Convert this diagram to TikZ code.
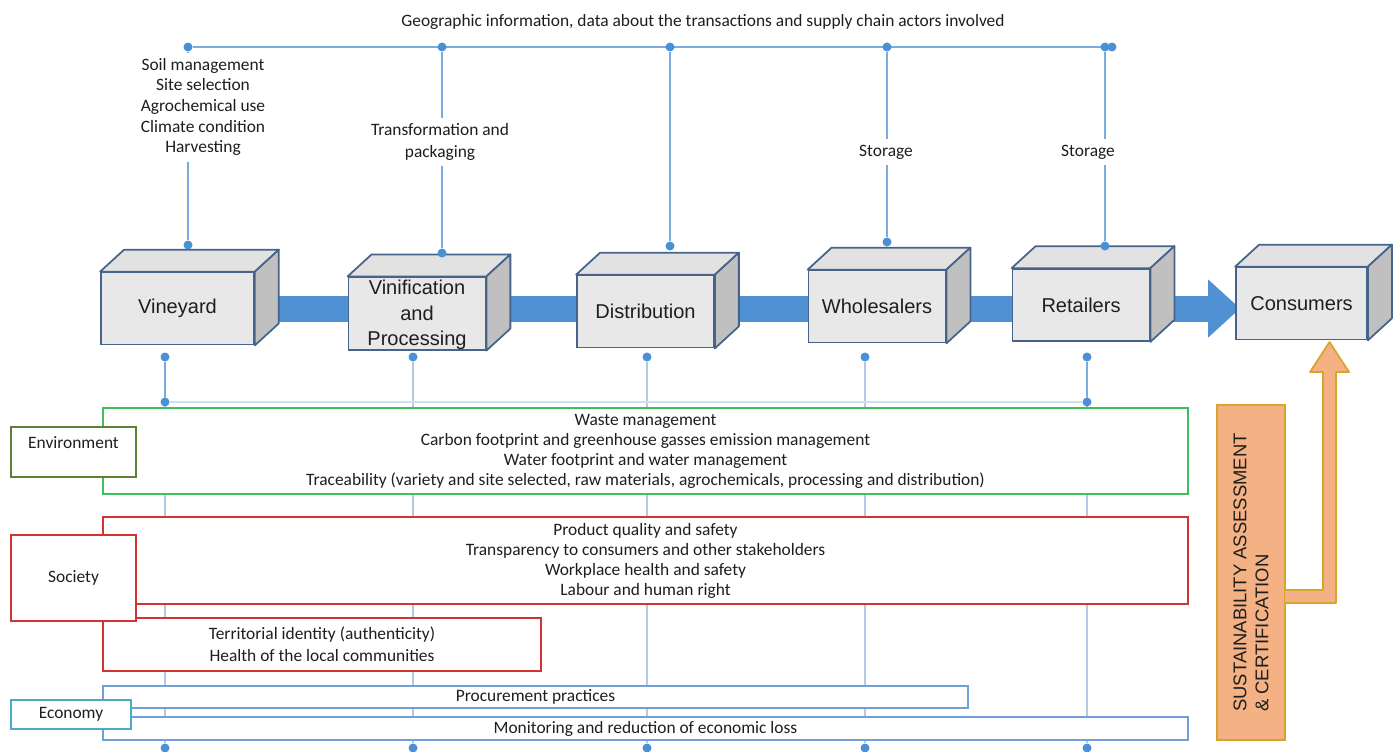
\documentclass[tikz,border=0pt]{standalone}
\usepackage{fontspec}
\setmainfont{Carlito}
\newfontfamily\arialfont{Liberation Sans}
\usetikzlibrary{arrows.meta,backgrounds}

\definecolor{dotblue}{RGB}{74,144,212}
\definecolor{topblue}{RGB}{122,170,222}
\definecolor{lowblue}{RGB}{178,202,230}
\definecolor{paleblue}{RGB}{208,224,242}
\definecolor{flowblue}{RGB}{80,145,212}
\definecolor{boxline}{RGB}{70,100,138}
\definecolor{frontgray}{RGB}{232,232,232}
\definecolor{topgray}{RGB}{226,226,226}
\definecolor{sidegray}{RGB}{192,192,192}
\definecolor{envgreen}{RGB}{62,190,92}
\definecolor{envlabel}{RGB}{96,128,52}
\definecolor{socred}{RGB}{210,52,52}
\definecolor{econblue}{RGB}{112,160,214}
\definecolor{econlabel}{RGB}{76,172,198}
\definecolor{sustfill}{RGB}{244,177,131}
\definecolor{sustline}{RGB}{214,166,44}
\definecolor{textgray}{RGB}{30,30,30}

\tikzset{
  txt/.style={font=\fontsize{9.9}{11.4}\selectfont, text=textgray, align=center},
  bluedot/.style={circle, fill=dotblue, inner sep=0pt, minimum size=0.18cm},
  topline/.style={draw=topblue, line width=0.8pt},
  lowline/.style={draw=lowblue, line width=0.7pt},
  cube/.style={draw=boxline, fill=frontgray, line width=1pt, inner sep=0pt,
    minimum width=2.74cm, minimum height=1.44cm, align=center, text=textgray,
    font=\arialfont\fontsize{11.4}{14.4}\selectfont},
  cubeface/.style={draw=boxline, line width=1pt, line join=round},
  catbox/.style={txt, draw, fill=white, line width=1pt, inner sep=0pt},
  flow/.style={draw=flowblue, line width=0.52cm, -{Triangle[width=1.12cm, length=0.64cm]}},
  sustbox/.style={draw=sustline, fill=sustfill, line width=1pt, inner sep=0pt,
    rotate=90, minimum width=6.7cm, minimum height=1.36cm, align=left,
    text=textgray, font=\arialfont\fontsize{10.5}{12.5}\selectfont}
}

\begin{document}
\begin{tikzpicture}[x=0.02cm, y=-0.02cm]
\useasboundingbox (0,0) rectangle (1398,751);

\node[txt] (title) at (703,22) {Geographic information, data about the transactions and supply chain actors involved};

% the three pillars
\node[catbox, draw=envgreen, minimum width=21.7cm, minimum height=1.72cm] (envbox) at (645.5,451)
	{Waste management\\Carbon footprint and greenhouse gasses emission management\\Water footprint and water management\\Traceability (variety and site selected, raw materials, agrochemicals, processing and distribution)};
\node[catbox, draw=socred, minimum width=21.7cm, minimum height=1.74cm] (socbox) at (645.5,560.5)
	{Product quality and safety\\Transparency to consumers and other stakeholders\\Workplace health and safety\\Labour and human right};
\node[catbox, draw=socred, minimum width=8.76cm, minimum height=1.06cm, font=\fontsize{9.9}{12.5}\selectfont] (terrbox) at (322,644.5)
	{Territorial identity (authenticity)\\Health of the local communities};
\node[catbox, draw=econblue, minimum width=17.3cm, minimum height=0.44cm] (procbox) at (535.5,697) {Procurement practices};
\node[catbox, draw=econblue, minimum width=21.7cm, minimum height=0.46cm] (monbox) at (645.5,728.5) {Monitoring and reduction of economic loss};

\node[catbox, draw=envlabel, minimum width=2.5cm, minimum height=1cm, text depth=11pt] (env) at (73.5,452) {Environment};
\node[catbox, draw=socred, minimum width=2.5cm, minimum height=1.72cm] (soc) at (73.5,578) {Society};
\node[catbox, draw=econlabel, minimum width=2.4cm, minimum height=0.58cm] (econ) at (71,714.5) {Economy};

% supply chain
\node[cube, minimum width=3.06cm] (vine) at (177.5,308.5) {Vineyard};
\node[cube] (vinif) at (417,313.5) {\strut Vinification\\and\\Processing};
\node[cube] (dist) at (645.5,311.5) {Distribution};
\node[cube] (whole) at (877,306.5) {Wholesalers};
\node[cube] (retail) at (1081,305) {Retailers};
\node[cube, minimum width=2.62cm] (cons) at (1301.5,303.5) {Consumers};

\foreach \n in {vine, vinif, dist, whole, retail, cons} {
	\draw[cubeface, fill=topgray] (\n.north west) -- ++(24,-22) -- ([shift={(24,-22)}]\n.north east) -- (\n.north east) -- cycle;
	\draw[cubeface, fill=sidegray] (\n.north east) -- ++(24,-22) -- ([shift={(24,-22)}]\n.south east) -- (\n.south east) -- cycle;
}

% dots
\foreach \i/\x/\y in {1/188/245, 2/442/253, 3/670/246, 4/887/242, 5/1105/246} {
	\node[bluedot] (t\i) at (\x,47) {};
	\node[bluedot] (a\i) at (\x,\y) {};
}
\node[bluedot] (t6) at (1112,47) {};
\foreach \i/\x in {1/165, 2/413, 3/647, 4/865, 5/1087} {
	\node[bluedot] (u\i) at (\x,357) {};
	\node[bluedot] (w\i) at (\x,748) {};
}
\node[bluedot] (h1) at (165,402) {};
\node[bluedot] (h2) at (1087,402) {};

\begin{scope}[on background layer]
	\draw[flow] (vine.east) -- ([xshift=0.1cm]vine.east -| cons.west);
	\draw[topline] (t1) -- (t6);
	\foreach \i in {1,...,5} {
		\draw[topline] (t\i) -- (a\i);
		\draw[lowline] (u\i) -- (w\i);
	}
	\draw[topline] (u1) -- (h1);
	\draw[topline] (u5) -- (h2);
	\draw[draw=paleblue, line width=0.8pt] (h1) -- (h2);
\end{scope}

\node[txt, fill=white, font=\fontsize{9.9}{11.7}\selectfont] (vinetxt) at (203,107)
	{Soil management\\Site selection\\Agrochemical use\\Climate condition\\Harvesting};
\node[txt, fill=white, font=\fontsize{9.9}{12.5}\selectfont] (viniftxt) at (440,142) {Transformation and\\packaging};
\node[txt, fill=white] (wholetxt) at (886,152) {Storage};
\node[txt, fill=white] (retailtxt) at (1088,152) {Storage};

% assessment
\node[sustbox] (sust) at (1251,572.5) {SUSTAINABILITY ASSESSMENT\\\& CERTIFICATION\hspace*{0.19cm}};
\draw[draw=sustline, fill=sustfill, line width=1pt, line join=round]
	(1285,590) -- (1323,590) -- (1323,372) -- (1310,372) -- (1329.5,342)
	-- (1349,372) -- (1336,372) -- (1336,603) -- (1285,603);

\end{tikzpicture}
\end{document}
